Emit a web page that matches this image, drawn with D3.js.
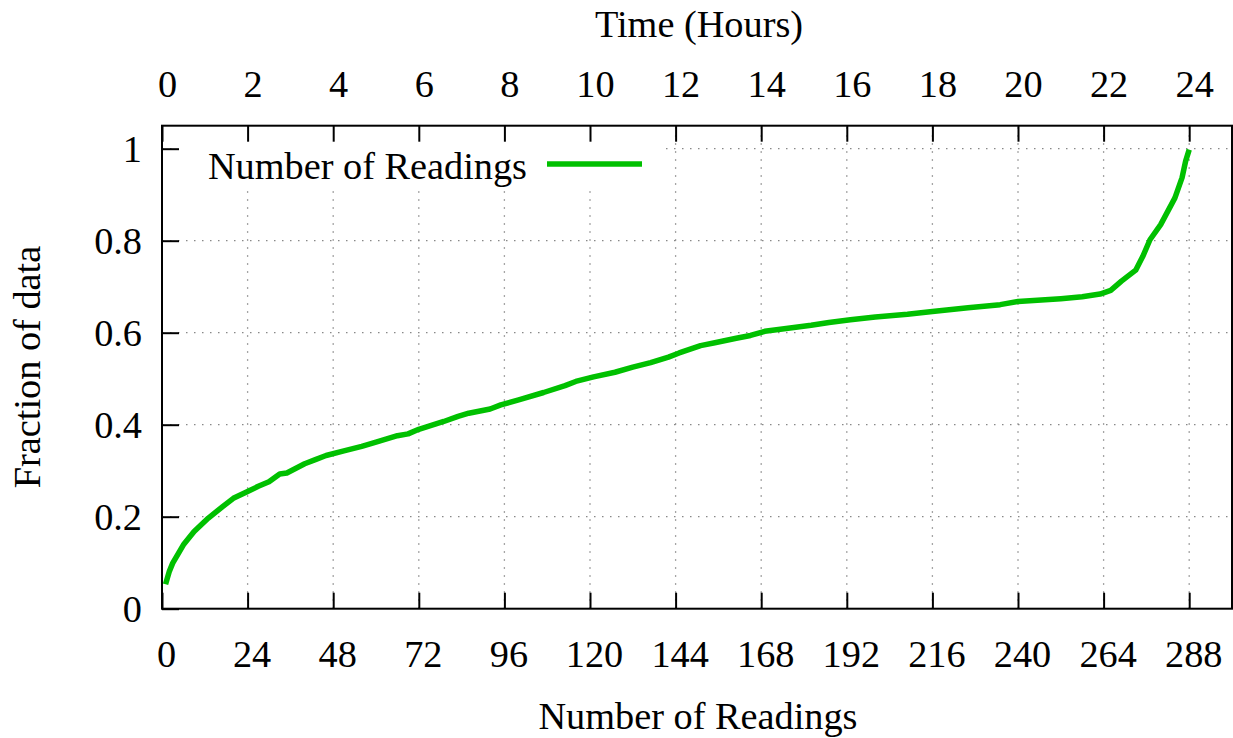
<!DOCTYPE html>
<html>
<head>
<meta charset="utf-8">
<script src="https://cdn.jsdelivr.net/npm/d3@7"></script>
<style>
  body { margin: 0; background: #fff; }
  text { font-family: "Liberation Serif", "Times New Roman", serif; }
</style>
</head>
<body>
<script>
var width = 1233, height = 738;

// readings (x) and cumulative fraction (y)
var readings = [1, 2, 3, 6, 9, 13, 17, 20, 24, 27, 30, 33, 35, 40, 43, 46, 51, 56, 60, 66, 69, 72, 79, 83, 86, 92, 95,
                100, 107, 113, 116, 121, 127, 132, 137, 142, 145, 151, 155, 161, 165, 169, 175, 182, 187, 193, 200,
                209, 216, 226, 235, 240, 252, 258, 263, 266, 269, 273, 275, 277, 280, 284, 286, 287, 288];
var fraction = [0.053, 0.08, 0.099, 0.139, 0.168, 0.197, 0.222, 0.240, 0.255, 0.266, 0.276, 0.293, 0.295, 0.315, 0.324,
                0.333, 0.343, 0.353, 0.362, 0.376, 0.380, 0.390, 0.407, 0.418, 0.425, 0.434, 0.443, 0.454, 0.470, 0.485,
                0.494, 0.504, 0.514, 0.525, 0.535, 0.547, 0.556, 0.572, 0.578, 0.588, 0.594, 0.603, 0.609, 0.616, 0.622,
                0.628, 0.634, 0.640, 0.646, 0.654, 0.661, 0.668, 0.674, 0.678, 0.684, 0.692, 0.712, 0.736, 0.766, 0.802,
                0.835, 0.893, 0.937, 0.973, 0.998];

var xTicks = [0, 24, 48, 72, 96, 120, 144, 168, 192, 216, 240, 264, 288];
var hourTicks = [0, 2, 4, 6, 8, 10, 12, 14, 16, 18, 20, 22, 24];
var yTicks = [0, 0.2, 0.4, 0.6, 0.8, 1];
var yTickLabels = ["0", "0.2", "0.4", "0.6", "0.8", "1"];

// plot box edges (window.top is taken, so own names)
var pLeft = 162, pRight = 1232, pTop = 125.7, pBottom = 608.7;
var fs = "38.3px";
var green = "#00c000";

var x = d3.scaleLinear().domain([0, 300]).range([pLeft, pRight]);
var x2 = d3.scaleLinear().domain([0, 25]).range([pLeft, pRight]);
var y = d3.scaleLinear().domain([0, 1.05]).range([pBottom, pTop]);

var svg = d3.select("body").append("svg")
            .attr("width", width)
            .attr("height", height);

// grid
var grid = svg.append("g")
              .attr("stroke", "#888")
              .attr("stroke-width", 1.3)
              .attr("stroke-dasharray", "1.5,6.5");
grid.selectAll("line.gx")
    .data(xTicks.filter(function(d) { return d > 0; }))
    .enter().append("line")
    .attr("x1", function(d) { return x(d); })
    .attr("x2", function(d) { return x(d); })
    .attr("y1", pBottom)
    .attr("y2", pTop);
grid.selectAll("line.gy")
    .data(yTicks.filter(function(d) { return d > 0; }))
    .enter().append("line")
    .attr("x1", pLeft)
    .attr("x2", pRight)
    .attr("y1", function(d) { return y(d); })
    .attr("y2", function(d) { return y(d); });

// opaque key box
svg.append("rect")
   .attr("x", pLeft + 14).attr("y", pTop + 1)
   .attr("width", 490).attr("height", 60)
   .attr("fill", "#fff");

// curve
var line = d3.line()
             .x(function(d, i) { return x(readings[i]); })
             .y(function(d) { return y(d); });
svg.append("path")
   .datum(fraction)
   .attr("d", line)
   .attr("fill", "none")
   .attr("stroke", green)
   .attr("stroke-width", 5.5)
   .attr("stroke-linejoin", "round");

// axes, ticks pointing inward
var xAxis = svg.append("g")
               .attr("transform", "translate(0," + pBottom + ")")
               .call(d3.axisBottom(x).tickValues(xTicks).tickSize(-16).tickPadding(0));
var x2Axis = svg.append("g")
                .attr("transform", "translate(0," + pTop + ")")
                .call(d3.axisTop(x2).tickValues(hourTicks).tickSize(-16).tickPadding(0));
var yAxis = svg.append("g")
               .attr("transform", "translate(" + pLeft + ",0)")
               .call(d3.axisLeft(y).tickValues(yTicks).tickSize(-17).tickPadding(0)
                       .tickFormat(function(d, i) { return yTickLabels[i]; }));

[xAxis, x2Axis, yAxis].forEach(function(a) {
    a.select(".domain").remove();
    a.selectAll(".tick line").attr("stroke", "#000").attr("stroke-width", 2);
    a.selectAll(".tick text")
     .attr("fill", "#000")
     .style("font-size", fs)
     .style("font-family", "'Liberation Serif', serif");
});
xAxis.selectAll(".tick text").attr("y", 666.7 - pBottom).attr("dy", 0).attr("dx", 4);
x2Axis.selectAll(".tick text").attr("y", 97 - pTop).attr("dy", 0).attr("dx", 5);
yAxis.selectAll(".tick text").attr("x", 142 - pLeft).attr("dy", 13);

// border
svg.append("rect")
   .attr("x", pLeft).attr("y", pTop)
   .attr("width", pRight - pLeft).attr("height", pBottom - pTop)
   .attr("fill", "none")
   .attr("stroke", "#000")
   .attr("stroke-width", 2);

// key
svg.append("text")
   .attr("x", 527).attr("y", 179)
   .attr("text-anchor", "end")
   .style("font-size", fs)
   .text("Number of Readings");
svg.append("line")
   .attr("x1", 547).attr("x2", 642)
   .attr("y1", 164).attr("y2", 164)
   .attr("stroke", green)
   .attr("stroke-width", 5.5);

// titles
svg.append("text")
   .attr("x", 699).attr("y", 37)
   .attr("text-anchor", "middle")
   .style("font-size", fs)
   .text("Time (Hours)");
svg.append("text")
   .attr("x", 698).attr("y", 729)
   .attr("text-anchor", "middle")
   .style("font-size", fs)
   .text("Number of Readings");
svg.append("text")
   .attr("transform", "translate(40,367) rotate(-90)")
   .attr("text-anchor", "middle")
   .style("font-size", fs)
   .text("Fraction of data");
</script>
</body>
</html>
